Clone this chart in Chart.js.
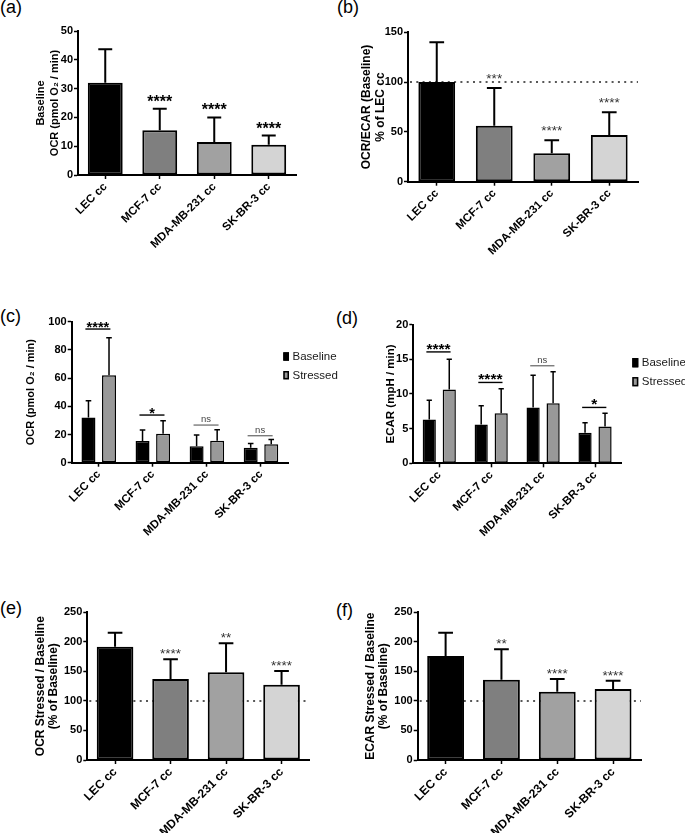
<!DOCTYPE html>
<html>
<head>
<meta charset="utf-8">
<script src="https://cdn.jsdelivr.net/npm/chart.js@4.4.1/dist/chart.umd.min.js"></script>
<style>
  body { margin: 0; background: #fff; width: 685px; height: 833px; position: relative; overflow: hidden; font-family: 'Liberation Sans', Arial, sans-serif; }
  canvas { position: absolute; }
  .tag { position: absolute; font-size: 18px; line-height: 1; color: #000; }
</style>
</head>
<body>
<div class="tag" style="left:0px;top:-2px">(a)</div>
<div class="tag" style="left:337px;top:-2px">(b)</div>
<div class="tag" style="left:0px;top:307px">(c)</div>
<div class="tag" style="left:336px;top:309px">(d)</div>
<div class="tag" style="left:0px;top:599px">(e)</div>
<div class="tag" style="left:336px;top:601px">(f)</div>

<canvas id="chartA"></canvas>
<canvas id="chartB"></canvas>
<canvas id="chartC"></canvas>
<canvas id="chartD"></canvas>
<canvas id="chartE"></canvas>
<canvas id="chartF"></canvas>

<script>
const cellLines = ['LEC cc', 'MCF-7 cc', 'MDA-MB-231 cc', 'SK-BR-3 cc'];
const lineColors = ['#000000', '#7f7f7f', '#a1a1a1', '#d4d4d4'];

// (a) baseline OCR
const ocrBase = [32, 15.5, 11.5, 10.5];
const ocrBaseSd = [11.7, 7.5, 8.5, 3.2];
const ocrBaseSig = ['', '****', '****', '****'];

// (b) OCR/ECAR, % of LEC
const ocrEcar = [100, 56.3, 28.5, 47];
const ocrEcarSd = [40, 37.7, 13, 22.7];
const ocrEcarSig = ['', '***', '****', '****'];

// (c) OCR baseline vs stressed
const ocrB = [32, 15.4, 11.6, 10.6];
const ocrBSd = [12, 7.8, 8, 3.1];
const ocrS = [62, 20.6, 15.6, 13];
const ocrSSd = [26.7, 9.2, 7.8, 3.5];
const ocrPairY = [94.8, 33.8, 26.7, 19.1];
const ocrPairSig = ['****', '*', 'ns', 'ns'];

// (d) ECAR baseline vs stressed
const ecarB = [6.3, 5.6, 8.05, 4.4];
const ecarBSd = [2.8, 2.7, 4.65, 1.45];
const ecarS = [10.65, 7.2, 8.65, 5.3];
const ecarSSd = [4.35, 3.55, 4.55, 1.9];
const ecarPairY = [16.05, 11.65, 14.05, 8.05];
const ecarPairSig = ['****', '****', 'ns', '*'];

// (e) OCR stressed / baseline
const ocrRatio = [191.8, 137.1, 148.5, 127.5];
const ocrRatioSd = [23.7, 33.4, 49.1, 23.2];
const ocrRatioSig = ['', '****', '**', '****'];

// (f) ECAR stressed / baseline
const ecarRatio = [176, 136, 115.7, 120.2];
const ecarRatioSd = [39.5, 51.4, 21.4, 14.1];
const ecarRatioSig = ['', '**', '****', '****'];

const seriesNames = ['Baseline', 'Stressed'];
const FONT = "'Liberation Sans', Arial, sans-serif";
Chart.defaults.font.family = FONT;
Chart.defaults.color = '#000';

// error bars, stars, dotted reference line, significance brackets, legend
const extras = {
    id: 'extras',
    beforeDatasetsDraw(chart, args, opts) {
        if (opts.refLine == null) return;
        const ctx = chart.ctx;
        const area = chart.chartArea;
        const y = chart.scales.y.getPixelForValue(opts.refLine);
        ctx.save();
        ctx.strokeStyle = '#222';
        ctx.lineWidth = 1.5;
        ctx.setLineDash([2, 4.3]);
        ctx.beginPath();
        ctx.moveTo(area.left + 2, y);
        ctx.lineTo(area.right, y);
        ctx.stroke();
        ctx.restore();
    },
    afterDatasetsDraw(chart, args, opts) {
        const ctx = chart.ctx;
        const yScale = chart.scales.y;
        ctx.save();
        ctx.strokeStyle = '#000';
        ctx.lineWidth = opts.errWidth || 2;
        chart.data.datasets.forEach((ds, di) => {
            const meta = chart.getDatasetMeta(di);
            meta.data.forEach((bar, i) => {
                const top = yScale.getPixelForValue(ds.data[i] + ds.errorBars[i]);
                const cap = bar.width * 0.4;
                ctx.beginPath();
                ctx.moveTo(bar.x, bar.y);
                ctx.lineTo(bar.x, top);
                ctx.moveTo(bar.x - cap / 2, top);
                ctx.lineTo(bar.x + cap / 2, top);
                ctx.stroke();

                if (opts.stars && opts.stars[i]) {
                    ctx.fillStyle = opts.starColor || '#000';
                    ctx.font = opts.starFont;
                    ctx.textAlign = 'center';
                    ctx.textBaseline = 'alphabetic';
                    ctx.fillText(opts.stars[i], bar.x, top - (opts.starGap || 2));
                }
            });
        });

        if (opts.pairs) {
            const m0 = chart.getDatasetMeta(0);
            const m1 = chart.getDatasetMeta(1);
            opts.pairs.forEach((label, i) => {
                const b0 = m0.data[i];
                const b1 = m1.data[i];
                const y = yScale.getPixelForValue(opts.pairY[i]);
                const x0 = b0.x - b0.width * 0.22;
                const x1 = b1.x + b1.width * 0.1;
                const ns = label === 'ns';
                ctx.strokeStyle = ns ? '#555' : '#000';
                ctx.lineWidth = ns ? 1.1 : 1.4;
                ctx.beginPath();
                ctx.moveTo(x0, y);
                ctx.lineTo(x1, y);
                ctx.stroke();
                ctx.fillStyle = ns ? '#444' : '#000';
                ctx.font = ns ? '9.5px ' + FONT : opts.pairFont;
                ctx.textAlign = 'center';
                ctx.textBaseline = 'alphabetic';
                ctx.fillText(label, (x0 + x1) / 2, ns ? y - 3 : y + opts.pairStarDrop);
            });
        }
        ctx.restore();
    },
    afterDraw(chart, args, opts) {
        const lg = opts.legend;
        if (!lg) return;
        const ctx = chart.ctx;
        const area = chart.chartArea;
        ctx.save();
        chart.data.datasets.forEach((ds, di) => {
            const cy = area.top + lg.dy + di * lg.gap;
            const x = area.right + lg.dx;
            ctx.fillStyle = ds.backgroundColor;
            ctx.fillRect(x, cy - lg.h / 2, lg.w, lg.h);
            ctx.strokeStyle = '#000';
            ctx.lineWidth = 1.5;
            ctx.strokeRect(x + 0.75, cy - lg.h / 2 + 0.75, lg.w - 1.5, lg.h - 1.5);
            ctx.fillStyle = '#1a1a1a';
            ctx.font = '11.5px ' + FONT;
            ctx.textAlign = 'left';
            ctx.textBaseline = 'middle';
            ctx.fillText(ds.label, x + lg.w + 3.5, cy + 0.5);
        });
        ctx.restore();
    }
};

function makeChart(id, p) {
    const canvas = document.getElementById(id);
    const cTop = Math.floor(p.area[1] - 20);
    const width = p.canvasRight - p.canvasLeft;
    const height = p.canvasBottom - cTop;
    canvas.width = width;
    canvas.height = height;
    canvas.style.left = p.canvasLeft + 'px';
    canvas.style.top = cTop + 'px';

    const yW = p.area[0] - p.canvasLeft;
    const xH = p.canvasBottom - p.area[3];
    const lh = p.titleSize * p.titleLh;
    const titlePad = p.titleX - p.canvasLeft - lh / 2;

    return new Chart(canvas.getContext('2d'), {
        type: 'bar',
        data: { labels: cellLines, datasets: p.datasets },
        options: {
            responsive: false,
            animation: false,
            devicePixelRatio: 1,
            layout: { padding: { top: p.area[1] - cTop, right: p.canvasRight - p.area[2], left: 0, bottom: 0 } },
            plugins: {
                legend: { display: false },
                tooltip: { enabled: false },
                extras: p.extras
            },
            scales: {
                x: {
                    grid: { drawOnChartArea: false, drawTicks: true, tickLength: 4, tickWidth: 1.5, tickColor: '#000', offset: false },
                    border: { color: '#000', width: 2 },
                    ticks: { color: '#000', font: { size: p.xFont, weight: 'bold' }, minRotation: 45, maxRotation: 45, padding: 1, autoSkip: false },
                    afterFit: s => { s.height = xH; }
                },
                y: {
                    min: 0,
                    max: p.yMax,
                    ticks: { stepSize: p.yStep, color: '#000', font: { size: p.yFont, weight: 'bold' }, padding: 1 },
                    grid: { drawOnChartArea: false, tickLength: 4, tickWidth: 1.5, tickColor: '#000' },
                    border: { color: '#000', width: 2 },
                    title: {
                        display: true,
                        text: p.title,
                        color: '#000',
                        font: { size: p.titleSize, weight: 'bold', lineHeight: p.titleLh },
                        padding: { top: titlePad, bottom: 0 }
                    },
                    afterFit: s => { s.width = yW; }
                }
            }
        },
        plugins: [extras]
    });
}

function single(values, sd, pct) {
    return [{
        data: values,
        errorBars: sd,
        backgroundColor: lineColors,
        borderColor: '#000',
        borderWidth: 2,
        borderSkipped: false,
        barPercentage: pct,
        categoryPercentage: 1
    }];
}

function paired(base, baseSd, stress, stressSd, catPct, barPct) {
    return [
        { label: seriesNames[0], data: base, errorBars: baseSd, backgroundColor: '#000000', borderColor: '#000', borderWidth: 1.5, borderSkipped: false, barPercentage: barPct, categoryPercentage: catPct },
        { label: seriesNames[1], data: stress, errorBars: stressSd, backgroundColor: '#999999', borderColor: '#000', borderWidth: 1.5, borderSkipped: false, barPercentage: barPct, categoryPercentage: catPct }
    ];
}

makeChart('chartA', {
    area: [78, 31, 296, 175], canvasLeft: 0, canvasRight: 304, canvasBottom: 262,
    yMax: 50, yStep: 10, yFont: 11, xFont: 11.5,
    title: ['Baseline', 'OCR (pmol O\u2082 / min)'], titleSize: 11, titleLh: 1.22, titleX: 41.2,
    datasets: single(ocrBase, ocrBaseSd, 0.64),
    extras: { stars: ocrBaseSig, starFont: 'bold 16px ' + FONT, starGap: 2, errWidth: 2 }
});

makeChart('chartB', {
    area: [408, 32.3, 638, 181.7], canvasLeft: 340, canvasRight: 646, canvasBottom: 262,
    yMax: 150, yStep: 50, yFont: 11, xFont: 11.5,
    title: ['OCR/ECAR (Baseline)', '% of LEC cc'], titleSize: 12, titleLh: 1.2, titleX: 366.5,
    datasets: single(ocrEcar, ocrEcarSd, 0.64),
    extras: { stars: ocrEcarSig, starFont: '13.5px ' + FONT, starColor: '#333', starGap: 5, errWidth: 2, refLine: 100 }
});

makeChart('chartC', {
    area: [71.7, 321.7, 288, 462.7], canvasLeft: 0, canvasRight: 340, canvasBottom: 552,
    yMax: 100, yStep: 20, yFont: 11, xFont: 11.5,
    title: 'OCR (pmol O\u2082 / min)', titleSize: 11, titleLh: 1.2, titleX: 30.5,
    datasets: paired(ocrB, ocrBSd, ocrS, ocrSSd, 0.76, 0.68),
    extras: { errWidth: 1.5, pairs: ocrPairSig, pairY: ocrPairY, pairFont: 'bold 14.5px ' + FONT, pairStarDrop: 3,
        legend: { dx: -4.7, dy: 34.8, gap: 18.7, w: 5.7, h: 8.4 } }
});

makeChart('chartD', {
    area: [413.3, 324.5, 621, 463.3], canvasLeft: 340, canvasRight: 685, canvasBottom: 552,
    yMax: 20, yStep: 5, yFont: 11, xFont: 11.5,
    title: 'ECAR (mpH / min)', titleSize: 11.5, titleLh: 1.2, titleX: 391,
    datasets: paired(ecarB, ecarBSd, ecarS, ecarSSd, 0.77, 0.66),
    extras: { errWidth: 1.5, pairs: ecarPairSig, pairY: ecarPairY, pairFont: 'bold 15.5px ' + FONT, pairStarDrop: 2,
        legend: { dx: 11.3, dy: 38.2, gap: 19, w: 6, h: 9.3 } }
});

makeChart('chartE', {
    area: [87.3, 612.3, 309.3, 760], canvasLeft: 0, canvasRight: 330, canvasBottom: 833,
    yMax: 250, yStep: 50, yFont: 11, xFont: 12,
    title: ['OCR Stressed / Baseline', '(% of Baseline)'], titleSize: 12, titleLh: 1.11, titleX: 40.5,
    datasets: single(ocrRatio, ocrRatioSd, 0.66),
    extras: { stars: ocrRatioSig, starFont: '13.5px ' + FONT, starColor: '#333', starGap: 1, errWidth: 2, refLine: 100 }
});

makeChart('chartF', {
    area: [417.7, 612.3, 641, 760], canvasLeft: 340, canvasRight: 660, canvasBottom: 833,
    yMax: 250, yStep: 50, yFont: 11, xFont: 12,
    title: ['ECAR Stressed / Baseline', '(% of Baseline)'], titleSize: 12, titleLh: 1.11, titleX: 370.5,
    datasets: single(ecarRatio, ecarRatioSd, 0.66),
    extras: { stars: ecarRatioSig, starFont: '13.5px ' + FONT, starColor: '#333', starGap: 1, errWidth: 2, refLine: 100 }
});
</script>
</body>
</html>
